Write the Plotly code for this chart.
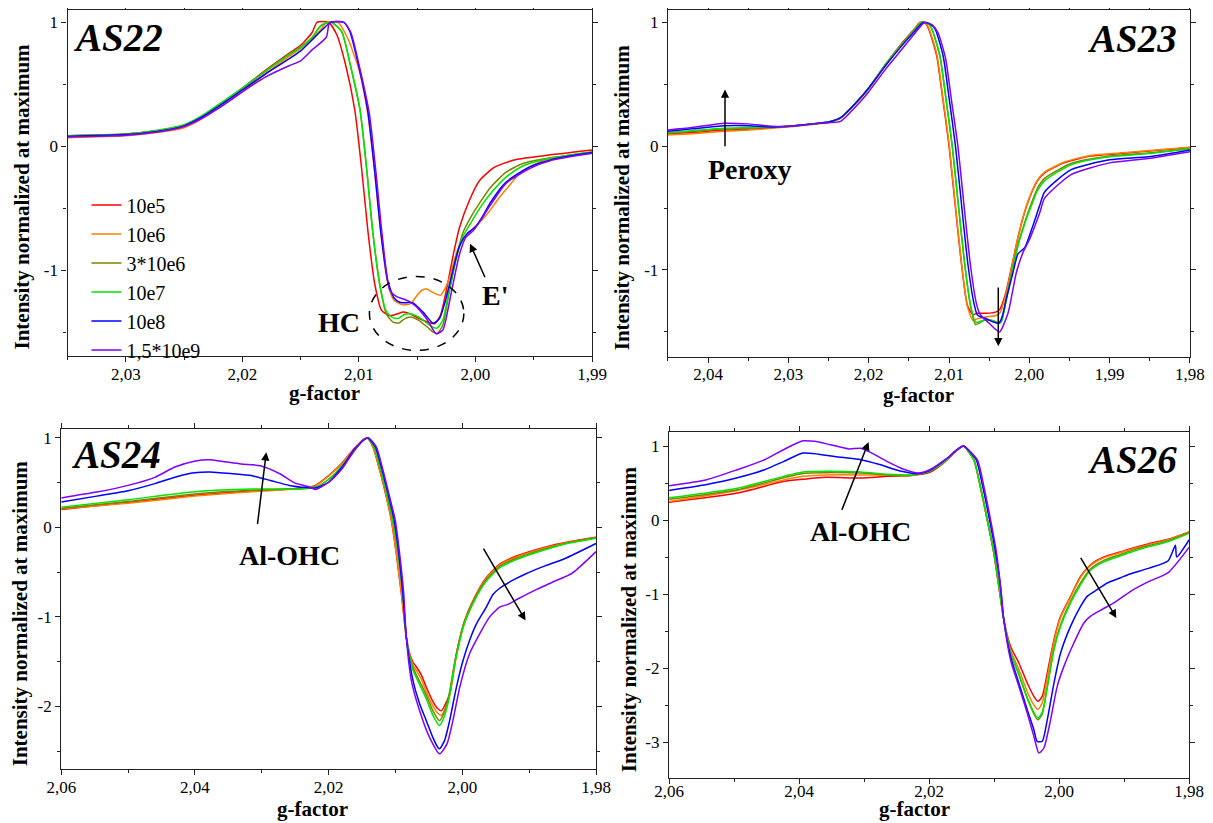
import plotly.graph_objects as go

SERIES = ["10e5", "10e6", "3*10e6", "10e7", "10e8", "1,5*10e9"]
COLORS = ["#FF0000", "#FF8000", "#808000", "#00E400", "#0000FF", "#8000FF"]

# ---------------- AS22 ----------------
AS22_g_10e5 = [2.035, 2.030, 2.027, 2.025, 2.0235, 2.022, 2.020, 2.018, 2.016, 2.015, 2.014, 2.0136, 2.0126, 2.0119, 2.0111, 2.01035, 2.00978, 2.00921, 2.00864, 2.00807, 2.00735, 2.0067, 2.0062, 2.0056, 2.0048, 2.0040, 2.0035, 2.0030, 2.0025, 2.0019, 2.00136, 2.0005, 1.99965, 1.9984, 1.9967, 1.9941, 1.990]
AS22_i_10e5 = [0.085, 0.100, 0.130, 0.170, 0.240, 0.335, 0.470, 0.615, 0.750, 0.815, 0.920, 1.000, 1.000, 0.900, 0.640, 0.290, -0.170, -0.700, -1.110, -1.320, -1.365, -1.350, -1.335, -1.350, -1.390, -1.420, -1.430, -1.360, -1.160, -0.870, -0.650, -0.430, -0.275, -0.170, -0.110, -0.075, -0.030]

AS22_g_10e6 = [2.035, 2.030, 2.027, 2.025, 2.0235, 2.022, 2.020, 2.018, 2.016, 2.015, 2.014, 2.0132, 2.0128, 2.0118, 2.0110, 2.0100, 2.00925, 2.00868, 2.0081, 2.00754, 2.0070, 2.0063, 2.0056, 2.0050, 2.0046, 2.0042, 2.0036, 2.0030, 2.0027, 2.0022, 2.0016, 2.0010, 2.0002, 1.9994, 1.9987, 1.9981, 1.9974, 1.9960, 1.9940, 1.990]
AS22_i_10e6 = [0.070, 0.085, 0.115, 0.150, 0.220, 0.310, 0.440, 0.585, 0.725, 0.790, 0.870, 0.950, 1.000, 1.000, 0.880, 0.620, 0.270, -0.180, -0.720, -1.100, -1.240, -1.275, -1.270, -1.200, -1.160, -1.150, -1.180, -1.200, -1.160, -1.050, -0.850, -0.740, -0.660, -0.590, -0.510, -0.430, -0.350, -0.200, -0.110, -0.055]

AS22_g_3x10e6 = [2.035, 2.030, 2.027, 2.025, 2.0235, 2.022, 2.020, 2.018, 2.016, 2.015, 2.014, 2.0133, 2.0124, 2.0115, 2.0107, 2.0099, 2.00935, 2.0088, 2.0082, 2.00765, 2.0071, 2.0066, 2.0061, 2.0056, 2.0049, 2.0041, 2.0036, 2.0033, 2.0028, 2.0023, 2.0017, 2.0011, 2.0004, 1.9996, 1.9987, 1.9974, 1.9960, 1.9941, 1.990]
AS22_i_3x10e6 = [0.085, 0.100, 0.130, 0.170, 0.240, 0.335, 0.465, 0.605, 0.740, 0.800, 0.880, 0.970, 1.000, 0.930, 0.640, 0.290, -0.170, -0.700, -1.120, -1.350, -1.415, -1.425, -1.390, -1.375, -1.400, -1.460, -1.500, -1.510, -1.440, -1.200, -0.920, -0.700, -0.570, -0.450, -0.330, -0.210, -0.140, -0.100, -0.045]

AS22_g_10e7 = [2.035, 2.030, 2.027, 2.025, 2.0235, 2.022, 2.020, 2.018, 2.016, 2.015, 2.014, 2.0132, 2.0124, 2.0115, 2.0107, 2.0099, 2.00935, 2.0088, 2.0082, 2.00765, 2.0071, 2.0066, 2.0061, 2.0056, 2.0049, 2.0041, 2.0036, 2.0033, 2.0028, 2.0023, 2.0017, 2.0011, 2.0003, 1.9995, 1.9987, 1.9974, 1.9960, 1.9941, 1.990]
AS22_i_10e7 = [0.085, 0.100, 0.135, 0.175, 0.245, 0.340, 0.470, 0.610, 0.740, 0.800, 0.880, 0.980, 1.000, 0.930, 0.640, 0.290, -0.170, -0.700, -1.120, -1.330, -1.380, -1.385, -1.355, -1.350, -1.375, -1.430, -1.460, -1.465, -1.400, -1.180, -0.920, -0.730, -0.600, -0.480, -0.380, -0.250, -0.160, -0.105, -0.045]

AS22_g_10e8 = [2.035, 2.030, 2.027, 2.025, 2.0235, 2.022, 2.020, 2.018, 2.016, 2.015, 2.014, 2.0124, 2.0113, 2.0108, 2.0100, 2.00925, 2.00868, 2.00811, 2.00754, 2.0070, 2.0065, 2.0059, 2.0054, 2.0045, 2.00364, 2.0031, 2.0026, 2.0022, 2.00136, 2.0007, 2.0000, 1.9993, 1.9987, 1.9974, 1.9954, 1.9934, 1.990]
AS22_i_10e8 = [0.080, 0.095, 0.125, 0.165, 0.235, 0.325, 0.455, 0.585, 0.705, 0.770, 0.860, 1.000, 1.000, 0.930, 0.640, 0.290, -0.170, -0.700, -1.080, -1.220, -1.256, -1.260, -1.260, -1.336, -1.425, -1.390, -1.250, -1.100, -0.800, -0.700, -0.650, -0.550, -0.450, -0.290, -0.167, -0.105, -0.050]

AS22_g_15x10e9 = [2.035, 2.030, 2.027, 2.025, 2.0235, 2.022, 2.020, 2.018, 2.016, 2.015, 2.014, 2.0128, 2.0125, 2.0113, 2.0107, 2.0099, 2.0091, 2.00855, 2.0080, 2.00735, 2.0068, 2.0062, 2.0057, 2.0051, 2.0042, 2.00336, 2.0028, 2.0021, 2.00136, 2.0008, 2.0002, 1.9993, 1.9987, 1.9974, 1.9954, 1.9934, 1.990]
AS22_i_15x10e9 = [0.075, 0.090, 0.120, 0.160, 0.225, 0.310, 0.440, 0.560, 0.650, 0.690, 0.780, 0.880, 1.000, 1.000, 0.920, 0.620, 0.260, -0.200, -0.720, -1.160, -1.210, -1.230, -1.250, -1.290, -1.390, -1.510, -1.480, -1.190, -0.865, -0.730, -0.680, -0.560, -0.470, -0.300, -0.180, -0.110, -0.055]

# ---------------- AS23 ----------------
AS23_g_10e5 = [2.045, 2.042, 2.038, 2.035, 2.032, 2.030, 2.027, 2.025, 2.0235, 2.0216, 2.020, 2.0178, 2.0159, 2.0144, 2.0136, 2.0129, 2.0125, 2.01154, 2.01082, 2.0100, 2.00914, 2.00842, 2.0077, 2.0070, 2.0065, 2.0055, 2.0042, 2.0037, 2.0030, 2.0022, 2.0015, 2.0008, 2.0000, 1.9990, 1.9981, 1.9957, 1.9924, 1.9876, 1.980]
AS23_i_10e5 = [0.100, 0.110, 0.130, 0.135, 0.150, 0.160, 0.180, 0.195, 0.230, 0.350, 0.470, 0.670, 0.830, 0.940, 1.000, 0.990, 0.940, 0.730, 0.400, 0.000, -0.540, -0.970, -1.290, -1.360, -1.350, -1.350, -1.340, -1.320, -1.200, -0.970, -0.760, -0.580, -0.420, -0.280, -0.215, -0.135, -0.080, -0.054, -0.010]

AS23_g_10e6 = [2.045, 2.042, 2.038, 2.035, 2.032, 2.030, 2.027, 2.025, 2.0235, 2.0216, 2.020, 2.0178, 2.0159, 2.0144, 2.0136, 2.0129, 2.0125, 2.01154, 2.01082, 2.0100, 2.00914, 2.00842, 2.0077, 2.0070, 2.0065, 2.0055, 2.0042, 2.0037, 2.0030, 2.0022, 2.0015, 2.0008, 2.0000, 1.9990, 1.9981, 1.9957, 1.9924, 1.9876, 1.980]
AS23_i_10e6 = [0.090, 0.100, 0.120, 0.130, 0.145, 0.155, 0.175, 0.190, 0.225, 0.345, 0.465, 0.665, 0.825, 0.935, 1.000, 0.995, 0.950, 0.750, 0.420, 0.020, -0.520, -0.960, -1.300, -1.410, -1.395, -1.380, -1.370, -1.350, -1.220, -0.980, -0.760, -0.575, -0.415, -0.275, -0.210, -0.130, -0.075, -0.050, -0.008]

AS23_g_3x10e6 = [2.045, 2.042, 2.038, 2.035, 2.032, 2.030, 2.027, 2.025, 2.0235, 2.0216, 2.020, 2.0178, 2.0159, 2.0144, 2.0134, 2.0125, 2.0121, 2.01114, 2.01042, 2.0096, 2.00874, 2.00802, 2.0073, 2.0067, 2.0063, 2.0055, 2.0045, 2.0039, 2.0035, 2.0029, 2.0021, 2.0014, 2.0006, 1.9998, 1.9990, 1.9981, 1.9948, 1.9900, 1.9852, 1.980]
AS23_i_3x10e6 = [0.105, 0.120, 0.140, 0.145, 0.150, 0.158, 0.178, 0.193, 0.228, 0.348, 0.468, 0.668, 0.822, 0.932, 1.000, 0.985, 0.940, 0.730, 0.400, 0.000, -0.540, -0.970, -1.300, -1.440, -1.430, -1.405, -1.410, -1.425, -1.410, -1.240, -0.990, -0.790, -0.620, -0.470, -0.340, -0.260, -0.140, -0.080, -0.055, -0.018]

AS23_g_10e7 = [2.045, 2.042, 2.038, 2.035, 2.032, 2.030, 2.027, 2.025, 2.0235, 2.0216, 2.020, 2.0178, 2.0159, 2.0144, 2.0134, 2.0125, 2.0121, 2.01114, 2.01042, 2.0096, 2.00874, 2.00802, 2.0073, 2.0067, 2.0063, 2.0055, 2.0045, 2.0039, 2.0035, 2.0029, 2.0021, 2.0014, 2.0006, 1.9998, 1.9990, 1.9981, 1.9948, 1.9900, 1.9852, 1.980]
AS23_i_10e7 = [0.110, 0.125, 0.145, 0.150, 0.155, 0.160, 0.180, 0.195, 0.230, 0.350, 0.470, 0.670, 0.820, 0.930, 1.000, 0.985, 0.940, 0.730, 0.400, 0.000, -0.540, -0.970, -1.290, -1.420, -1.420, -1.400, -1.410, -1.430, -1.420, -1.250, -1.000, -0.800, -0.630, -0.490, -0.360, -0.280, -0.150, -0.086, -0.060, -0.020]

AS23_g_10e8 = [2.045, 2.042, 2.038, 2.035, 2.032, 2.030, 2.027, 2.025, 2.0235, 2.0216, 2.020, 2.0178, 2.0159, 2.0144, 2.0132, 2.0122, 2.0117, 2.01074, 2.01002, 2.0092, 2.00834, 2.00762, 2.0069, 2.0065, 2.0062, 2.0055, 2.0045, 2.0038, 2.0034, 2.00286, 2.00204, 2.00142, 2.00058, 1.99955, 1.99872, 1.9981, 1.9948, 1.9900, 1.9852, 1.980]
AS23_i_10e8 = [0.120, 0.140, 0.165, 0.165, 0.155, 0.160, 0.180, 0.195, 0.230, 0.350, 0.470, 0.660, 0.810, 0.920, 1.000, 0.980, 0.940, 0.730, 0.400, 0.000, -0.540, -0.970, -1.270, -1.360, -1.375, -1.390, -1.420, -1.430, -1.380, -1.230, -1.020, -0.870, -0.820, -0.640, -0.480, -0.370, -0.190, -0.110, -0.086, -0.030]

AS23_g_15x10e9 = [2.045, 2.042, 2.038, 2.035, 2.032, 2.030, 2.027, 2.025, 2.0235, 2.0216, 2.020, 2.0178, 2.0159, 2.0144, 2.0130, 2.0121, 2.0114, 2.01044, 2.00972, 2.0089, 2.00804, 2.00732, 2.0066, 2.0062, 2.0057, 2.0050, 2.0042, 2.0037, 2.00266, 2.00162, 2.0008, 1.99996, 1.99872, 1.9981, 1.9948, 1.9900, 1.9852, 1.980]
AS23_i_15x10e9 = [0.130, 0.150, 0.185, 0.180, 0.160, 0.160, 0.180, 0.190, 0.200, 0.320, 0.440, 0.630, 0.780, 0.900, 1.000, 0.980, 0.920, 0.710, 0.380, 0.000, -0.540, -0.970, -1.270, -1.350, -1.390, -1.430, -1.480, -1.500, -1.350, -1.020, -0.860, -0.750, -0.540, -0.420, -0.230, -0.135, -0.100, -0.045]

# ---------------- AS24 ----------------
AS24_g_10e5 = [2.060, 2.050, 2.040, 2.0314, 2.0240, 2.0220, 2.0200, 2.0180, 2.0162, 2.0148, 2.0142, 2.01337, 2.01237, 2.01137, 2.01062, 2.00987, 2.00912, 2.00838, 2.00788, 2.00737, 2.00687, 2.00612, 2.00537, 2.00438, 2.00363, 2.00313, 2.00263, 2.00189, 2.00089, 1.99965, 1.99815, 1.9964, 1.99441, 1.99191, 1.98764, 1.9840, 1.980]
AS24_i_10e5 = [0.200, 0.280, 0.360, 0.410, 0.440, 0.470, 0.580, 0.720, 0.880, 0.985, 1.000, 0.900, 0.640, 0.340, 0.080, -0.300, -0.740, -1.230, -1.410, -1.510, -1.560, -1.650, -1.790, -1.950, -2.030, -2.050, -1.990, -1.860, -1.410, -1.040, -0.780, -0.560, -0.410, -0.320, -0.220, -0.160, -0.110]

AS24_g_10e6 = [2.060, 2.050, 2.040, 2.0314, 2.0240, 2.0220, 2.0200, 2.0180, 2.0162, 2.0148, 2.0142, 2.01337, 2.01237, 2.01137, 2.01062, 2.00987, 2.00912, 2.00838, 2.00788, 2.00737, 2.00687, 2.00612, 2.00537, 2.00438, 2.00363, 2.00313, 2.00263, 2.00189, 2.00089, 1.99965, 1.99815, 1.9964, 1.99441, 1.99191, 1.98764, 1.9840, 1.980]
AS24_i_10e6 = [0.210, 0.270, 0.350, 0.400, 0.435, 0.465, 0.575, 0.715, 0.875, 0.985, 1.000, 0.900, 0.650, 0.350, 0.090, -0.290, -0.730, -1.230, -1.420, -1.540, -1.600, -1.700, -1.840, -2.000, -2.080, -2.100, -2.040, -1.880, -1.430, -1.060, -0.790, -0.570, -0.420, -0.330, -0.230, -0.165, -0.115]

AS24_g_3x10e6 = [2.060, 2.050, 2.040, 2.0314, 2.0240, 2.0215, 2.0191, 2.0168, 2.0148, 2.0142, 2.0132, 2.0122, 2.0112, 2.0104, 2.0096, 2.0089, 2.00838, 2.0079, 2.00737, 2.00687, 2.00612, 2.00537, 2.0044, 2.0034, 2.0029, 2.0021, 2.0011, 1.9998, 1.9982, 1.9964, 1.9944, 1.99191, 1.98764, 1.9840, 1.980]
AS24_i_3x10e6 = [0.215, 0.290, 0.375, 0.415, 0.435, 0.465, 0.590, 0.790, 0.980, 1.000, 0.900, 0.640, 0.340, 0.080, -0.300, -0.740, -1.230, -1.430, -1.570, -1.650, -1.760, -1.880, -2.050, -2.160, -2.100, -1.910, -1.490, -1.080, -0.800, -0.585, -0.435, -0.345, -0.240, -0.170, -0.115]

AS24_g_10e7 = [2.060, 2.050, 2.040, 2.0314, 2.0240, 2.0215, 2.0191, 2.0168, 2.0148, 2.0142, 2.0132, 2.0122, 2.0112, 2.0104, 2.0096, 2.0089, 2.00838, 2.0079, 2.00737, 2.00687, 2.00612, 2.00537, 2.0044, 2.0034, 2.0029, 2.0021, 2.0011, 1.9998, 1.9982, 1.9964, 1.9944, 1.99191, 1.98764, 1.9840, 1.980]
AS24_i_10e7 = [0.227, 0.310, 0.400, 0.430, 0.430, 0.460, 0.600, 0.800, 0.980, 1.000, 0.900, 0.640, 0.340, 0.080, -0.300, -0.740, -1.230, -1.440, -1.600, -1.680, -1.800, -1.920, -2.100, -2.215, -2.150, -1.950, -1.520, -1.100, -0.820, -0.600, -0.450, -0.360, -0.250, -0.175, -0.120]

AS24_g_10e8 = [2.060, 2.0547, 2.050, 2.0460, 2.0430, 2.0401, 2.0378, 2.0343, 2.0316, 2.0287, 2.0259, 2.0232, 2.0220, 2.0200, 2.0180, 2.0162, 2.0145, 2.0141, 2.0130, 2.0120, 2.0110, 2.0102, 2.0095, 2.0089, 2.00838, 2.00739, 2.00639, 2.00539, 2.0044, 2.00365, 2.0034, 2.00265, 2.0019, 2.0009, 1.99991, 1.99891, 1.99791, 1.99641, 1.99542, 1.99442, 1.99243, 1.99056, 1.98764, 1.98472, 1.980]
AS24_i_10e8 = [0.285, 0.350, 0.410, 0.490, 0.560, 0.610, 0.620, 0.600, 0.580, 0.525, 0.470, 0.445, 0.440, 0.505, 0.675, 0.870, 0.990, 1.000, 0.900, 0.640, 0.340, 0.080, -0.300, -0.740, -1.230, -1.710, -1.970, -2.160, -2.350, -2.460, -2.475, -2.380, -2.160, -1.790, -1.490, -1.260, -1.080, -0.890, -0.750, -0.680, -0.590, -0.520, -0.430, -0.350, -0.180]

AS24_g_15x10e9 = [2.060, 2.0547, 2.050, 2.0460, 2.0430, 2.0401, 2.0378, 2.0360, 2.0331, 2.0302, 2.0273, 2.0250, 2.0232, 2.0220, 2.0200, 2.0180, 2.0162, 2.0148, 2.0140, 2.01287, 2.01187, 2.01087, 2.01003, 2.00937, 2.00877, 2.00838, 2.00763, 2.00639, 2.00489, 2.0034, 2.0023, 2.00141, 2.0004, 1.99891, 1.99741, 1.99591, 1.99442, 1.99318, 1.99172, 1.9888, 1.98647, 1.98356, 1.980]
AS24_i_15x10e9 = [0.330, 0.395, 0.470, 0.560, 0.675, 0.740, 0.756, 0.740, 0.710, 0.690, 0.600, 0.495, 0.460, 0.425, 0.505, 0.655, 0.860, 0.980, 1.000, 0.900, 0.640, 0.340, 0.080, -0.300, -0.740, -1.230, -1.710, -2.050, -2.350, -2.530, -2.420, -2.160, -1.790, -1.410, -1.190, -1.000, -0.890, -0.860, -0.800, -0.690, -0.610, -0.510, -0.270]

# ---------------- AS26 ----------------
AS26_g_10e5 = [2.060, 2.0495, 2.0424, 2.0394, 2.0359, 2.0305, 2.0264, 2.0228, 2.0199, 2.0175, 2.0157, 2.0147, 2.01311, 2.01212, 2.01105, 2.01003, 2.00926, 2.0085, 2.00746, 2.00618, 2.00489, 2.00387, 2.00325, 2.00258, 2.00181, 2.00078, 1.99977, 1.99823, 1.99669, 1.99515, 1.99311, 1.99054, 1.98911, 1.98615, 1.9832, 1.980]
AS26_i_10e5 = [0.240, 0.365, 0.520, 0.550, 0.577, 0.567, 0.590, 0.600, 0.644, 0.790, 0.940, 1.000, 0.815, 0.454, 0.004, -0.446, -0.897, -1.347, -1.708, -1.932, -2.203, -2.383, -2.450, -2.383, -2.068, -1.618, -1.302, -1.032, -0.762, -0.604, -0.500, -0.430, -0.390, -0.320, -0.260, -0.160]

AS26_g_10e6 = [2.060, 2.0495, 2.0424, 2.0394, 2.0359, 2.0305, 2.0264, 2.0228, 2.0199, 2.0175, 2.0157, 2.0147, 2.01311, 2.01212, 2.01105, 2.01003, 2.00926, 2.0085, 2.00746, 2.00618, 2.00489, 2.00387, 2.00325, 2.00258, 2.00181, 2.00078, 1.99977, 1.99823, 1.99669, 1.99515, 1.99311, 1.99054, 1.98911, 1.98615, 1.9832, 1.980]
AS26_i_10e6 = [0.250, 0.400, 0.540, 0.590, 0.610, 0.610, 0.605, 0.600, 0.667, 0.800, 0.945, 1.000, 0.815, 0.460, 0.010, -0.440, -0.890, -1.347, -1.760, -2.020, -2.320, -2.500, -2.560, -2.470, -2.130, -1.650, -1.320, -1.045, -0.775, -0.615, -0.510, -0.440, -0.400, -0.330, -0.265, -0.165]

AS26_g_3x10e6 = [2.060, 2.0495, 2.0424, 2.0394, 2.0359, 2.0305, 2.0264, 2.0228, 2.0199, 2.0175, 2.0157, 2.0147, 2.01311, 2.01212, 2.01105, 2.01003, 2.00926, 2.0085, 2.00746, 2.00618, 2.00489, 2.00387, 2.00325, 2.00258, 2.00181, 2.00078, 1.99977, 1.99823, 1.99669, 1.99515, 1.99311, 1.99054, 1.98911, 1.98615, 1.9832, 1.980]
AS26_i_3x10e6 = [0.280, 0.410, 0.570, 0.630, 0.640, 0.635, 0.610, 0.605, 0.662, 0.800, 0.945, 1.000, 0.815, 0.460, 0.010, -0.440, -0.890, -1.347, -1.790, -2.090, -2.410, -2.620, -2.700, -2.620, -2.260, -1.740, -1.420, -1.100, -0.850, -0.660, -0.545, -0.465, -0.420, -0.345, -0.280, -0.172]

AS26_g_10e7 = [2.060, 2.0495, 2.0424, 2.0394, 2.0359, 2.0305, 2.0264, 2.0228, 2.0199, 2.0175, 2.0157, 2.0147, 2.01311, 2.01212, 2.01105, 2.01003, 2.00926, 2.0085, 2.00746, 2.00618, 2.00489, 2.00387, 2.00325, 2.00258, 2.00181, 2.00078, 1.99977, 1.99823, 1.99669, 1.99515, 1.99311, 1.99054, 1.98911, 1.98615, 1.9832, 1.980]
AS26_i_10e7 = [0.300, 0.430, 0.590, 0.650, 0.660, 0.650, 0.620, 0.610, 0.660, 0.800, 0.945, 1.000, 0.815, 0.460, 0.010, -0.440, -0.890, -1.347, -1.790, -2.080, -2.400, -2.600, -2.680, -2.600, -2.250, -1.750, -1.440, -1.120, -0.875, -0.680, -0.565, -0.485, -0.440, -0.360, -0.290, -0.180]

AS26_g_10e8 = [2.060, 2.0542, 2.0495, 2.0453, 2.0424, 2.0394, 2.0370, 2.0335, 2.0305, 2.0276, 2.0246, 2.0217, 2.0199, 2.0175, 2.0154, 2.0147, 2.01275, 2.01175, 2.01070, 2.00975, 2.0090, 2.0085, 2.00746, 2.00618, 2.00489, 2.00387, 2.00336, 2.00258, 2.00181, 2.00078, 1.99977, 1.99823, 1.99669, 1.99567, 1.99413, 1.99259, 1.99054, 1.98911, 1.98615, 1.9832, 1.9821, 1.9819, 1.980]
AS26_i_10e8 = [0.400, 0.480, 0.570, 0.680, 0.790, 0.905, 0.890, 0.847, 0.815, 0.750, 0.667, 0.626, 0.667, 0.815, 0.970, 1.000, 0.815, 0.454, 0.004, -0.446, -0.897, -1.347, -1.843, -2.203, -2.563, -2.834, -2.992, -2.990, -2.700, -2.203, -1.800, -1.438, -1.167, -1.032, -0.942, -0.851, -0.780, -0.730, -0.650, -0.550, -0.340, -0.500, -0.270]

AS26_g_15x10e9 = [2.060, 2.0542, 2.0495, 2.0453, 2.0424, 2.0394, 2.0376, 2.0353, 2.0323, 2.0305, 2.0288, 2.0264, 2.0240, 2.0217, 2.0199, 2.0175, 2.0157, 2.0147, 2.01258, 2.01157, 2.01054, 2.00962, 2.0090, 2.0085, 2.00746, 2.00618, 2.00489, 2.00387, 2.0031, 2.00233, 2.0013, 2.00028, 1.99925, 1.99772, 1.99618, 1.99515, 1.99362, 1.99156, 1.99054, 1.98911, 1.98615, 1.9832, 1.980]
AS26_i_15x10e9 = [0.464, 0.545, 0.680, 0.815, 0.950, 1.070, 1.063, 1.020, 0.960, 0.970, 0.905, 0.790, 0.690, 0.635, 0.680, 0.815, 0.950, 1.000, 0.815, 0.454, 0.004, -0.446, -0.897, -1.347, -1.888, -2.248, -2.608, -2.924, -3.149, -3.081, -2.700, -2.248, -1.978, -1.662, -1.392, -1.300, -1.220, -1.120, -1.060, -0.970, -0.830, -0.710, -0.370]

# ---------------- axes: ranges and ticks ----------------
AS22_xrange = [2.035, 1.99]
AS23_xrange = [2.045, 1.98]
AS24_xrange = [2.06, 1.98]
AS26_xrange = [2.06, 1.98]
AS22_yrange = [-1.69, 1.10]
AS23_yrange = [-1.70, 1.10]
AS24_yrange = [-2.70, 1.10]
AS26_yrange = [-3.49, 1.19]
AS22_xticks = [2.03, 2.02, 2.01, 2.00, 1.99]
AS23_xticks = [2.04, 2.03, 2.02, 2.01, 2.00, 1.99, 1.98]
AS24_xticks = [2.06, 2.04, 2.02, 2.00, 1.98]
AS26_xticks = [2.06, 2.04, 2.02, 2.00, 1.98]
AS22_yticks = [1, 0, -1]
AS23_yticks = [1, 0, -1]
AS24_yticks = [1, 0, -1, -2]
AS26_yticks = [1, 0, -1, -2, -3]

FONT = "Liberation Serif"
AXC = "#222222"
TITLE_FONT = dict(family=FONT, size=21, color="black")

# The page body adds an 8px margin; the figure is sized to fill the rest of the window.
FIG_W, FIG_H = 1205, 815

panels = [
    dict(xa="x", ya="y", dom_x=[0.0494, 0.4847], dom_y=[0.5730, 0.9976],
         xr=AS22_xrange, yr=AS22_yrange, xt=AS22_xticks, yt=AS22_yticks, xminor=0.005,
         data=[(AS22_g_10e5, AS22_i_10e5), (AS22_g_10e6, AS22_i_10e6), (AS22_g_3x10e6, AS22_i_3x10e6),
               (AS22_g_10e7, AS22_i_10e7), (AS22_g_10e8, AS22_i_10e8), (AS22_g_15x10e9, AS22_i_15x10e9)],
         xt_dx=-5, xt_dy=37, yt_dx=46, lab_sd=-3),
    dict(xa="x2", ya="y2", dom_x=[0.5477, 0.9809], dom_y=[0.5722, 0.9976],
         xr=AS23_xrange, yr=AS23_yrange, xt=AS23_xticks, yt=AS23_yticks, xminor=0.005,
         data=[(AS23_g_10e5, AS23_i_10e5), (AS23_g_10e6, AS23_i_10e6), (AS23_g_3x10e6, AS23_i_3x10e6),
               (AS23_g_10e7, AS23_i_10e7), (AS23_g_10e8, AS23_i_10e8), (AS23_g_15x10e9, AS23_i_15x10e9)],
         xt_dx=-10, xt_dy=38, yt_dx=46, lab_sd=-3),
    dict(xa="x3", ya="y3", dom_x=[0.0442, 0.4880], dom_y=[0.0663, 0.4834],
         xr=AS24_xrange, yr=AS24_yrange, xt=AS24_xticks, yt=AS24_yticks, xminor=0.01,
         data=[(AS24_g_10e5, AS24_i_10e5), (AS24_g_10e6, AS24_i_10e6), (AS24_g_3x10e6, AS24_i_3x10e6),
               (AS24_g_10e7, AS24_i_10e7), (AS24_g_10e8, AS24_i_10e8), (AS24_g_15x10e9, AS24_i_15x10e9)],
         xt_dx=-16, xt_dy=40, yt_dx=41, lab_sd=-3),
    dict(xa="x4", ya="y4", dom_x=[0.5486, 0.9801], dom_y=[0.0549, 0.4798],
         xr=AS26_xrange, yr=AS26_yrange, xt=AS26_xticks, yt=AS26_yticks, xminor=0.01,
         data=[(AS26_g_10e5, AS26_i_10e5), (AS26_g_10e6, AS26_i_10e6), (AS26_g_3x10e6, AS26_i_3x10e6),
               (AS26_g_10e7, AS26_i_10e7), (AS26_g_10e8, AS26_i_10e8), (AS26_g_15x10e9, AS26_i_15x10e9)],
         xt_dx=-15, xt_dy=31, yt_dx=40, lab_sd=-8),
]

fig = go.Figure()
layout = dict(
    width=FIG_W, height=FIG_H,
    margin=dict(l=0, r=0, t=0, b=0),
    paper_bgcolor="white", plot_bgcolor="white",
    font=dict(family=FONT, color="black", size=17),
    showlegend=True,
    legend=dict(x=0.0651, y=0.7821, xanchor="left", yanchor="top",
                bgcolor="rgba(0,0,0,0)", font=dict(family=FONT, size=20),
                tracegroupgap=0, itemwidth=30),
)

ann = []
for p_i, p in enumerate(panels):
    for s_i, (g, v) in enumerate(p["data"]):
        fig.add_trace(go.Scatter(
            x=g, y=v, mode="lines", name=SERIES[s_i],
            line=dict(color=COLORS[s_i], width=1.5, shape="spline", smoothing=0.6),
            xaxis=p["xa"], yaxis=p["ya"], showlegend=(p_i == 0),
        ))
    xkey = "xaxis" if p["xa"] == "x" else "xaxis" + p["xa"][1:]
    ykey = "yaxis" if p["ya"] == "y" else "yaxis" + p["ya"][1:]
    layout[xkey] = dict(
        domain=p["dom_x"], range=p["xr"], anchor=p["ya"],
        tickmode="array", tickvals=p["xt"],
        ticktext=[f"{t:.2f}".replace(".", ",") for t in p["xt"]],
        ticks="outside", ticklen=5, tickwidth=1.3, tickcolor=AXC, ticklabelstandoff=p["lab_sd"],
        minor=dict(tickmode="linear", tick0=2.0, dtick=p["xminor"], ticks="outside",
                   ticklen=3, tickwidth=1.2, tickcolor=AXC, showgrid=False),
        showline=True, linecolor=AXC, linewidth=1.4, mirror="ticks",
        showgrid=False, zeroline=False, automargin=False,
        tickfont=dict(family=FONT, size=17, color="black"),
    )
    layout[ykey] = dict(
        domain=p["dom_y"], range=p["yr"], anchor=p["xa"],
        tickmode="array", tickvals=p["yt"], ticktext=[str(t) for t in p["yt"]],
        ticks="outside", ticklen=5, tickwidth=1.3, tickcolor=AXC,
        minor=dict(tickmode="linear", tick0=0, dtick=0.5, ticks="outside",
                   ticklen=3, tickwidth=1.2, tickcolor=AXC, showgrid=False),
        showline=True, linecolor=AXC, linewidth=1.4, mirror="ticks",
        showgrid=False, zeroline=False, automargin=False,
        tickfont=dict(family=FONT, size=17, color="black"),
    )
    # axis titles
    ann.append(dict(xref=p["xa"] + " domain", yref=p["ya"] + " domain", x=0.5, y=0,
                    xshift=p["xt_dx"], yshift=-p["xt_dy"], xanchor="center", yanchor="middle",
                    text="<b>g-factor</b>", showarrow=False, font=TITLE_FONT))
    ann.append(dict(xref=p["xa"] + " domain", yref=p["ya"] + " domain", x=0, y=0.5,
                    xshift=-p["yt_dx"], yshift=-14, xanchor="center", yanchor="middle",
                    textangle=-90, text="<b>Intensity normalized at maximum</b>",
                    showarrow=False, font=TITLE_FONT))

fig.update_layout(**layout)

name_font = dict(family=FONT, size=39, color="black")
label_font = dict(family=FONT, size=28, color="black")
ann += [
    dict(xref="x", yref="y", x=2.0347, y=0.88, text="<b><i>AS22</i></b>", xanchor="left", yanchor="middle", showarrow=False, font=name_font),
    dict(xref="x2", yref="y2", x=1.9814, y=0.87, text="<b><i>AS23</i></b>", xanchor="right", yanchor="middle", showarrow=False, font=name_font),
    dict(xref="x3", yref="y3", x=2.0588, y=0.82, text="<b><i>AS24</i></b>", xanchor="left", yanchor="middle", showarrow=False, font=name_font),
    dict(xref="x4", yref="y4", x=1.9815, y=0.82, text="<b><i>AS26</i></b>", xanchor="right", yanchor="middle", showarrow=False, font=name_font),
    dict(xref="x", yref="y", x=2.0117, y=-1.42, text="<b>HC</b>", showarrow=False, font=label_font),
    dict(xref="x", yref="y", x=1.9983, y=-1.20, text="<b>E'</b>", showarrow=False, font=label_font),
    dict(xref="x2", yref="y2", x=2.0348, y=-0.19, text="<b>Peroxy</b>", showarrow=False, font=label_font),
    dict(xref="x3", yref="y3", x=2.0258, y=-0.31, text="<b>Al-OHC</b>", showarrow=False, font=label_font),
    dict(xref="x4", yref="y4", x=2.0305, y=-0.15, text="<b>Al-OHC</b>", showarrow=False, font=label_font),
]
arrows = [
    ("x", "y", 1.99913, -1.067, 2.00047, -0.785),
    ("x2", "y2", 2.0379, -0.013, 2.0379, 0.458),
    ("x2", "y2", 2.00387, -1.13, 2.00387, -1.615),
    ("x3", "y3", 2.03067, 0.022, 2.02933, 0.84),
    ("x3", "y3", 1.99697, -0.22, 1.99055, -1.04),
    ("x4", "y4", 2.0335, 0.117, 2.0293, 1.054),
    ("x4", "y4", 1.9968, -0.49, 1.99118, -1.324),
]
for xa, ya, x0, y0, x1, y1 in arrows:
    ann.append(dict(xref=xa, yref=ya, axref=xa, ayref=ya, x=x1, y=y1, ax=x0, ay=y0,
                    text="", showarrow=True, arrowhead=2, arrowsize=1.1, arrowwidth=1.5,
                    arrowcolor="black"))
fig.update_layout(annotations=ann)

# HC dashed ellipse
fig.add_shape(type="circle", xref="x", yref="y", x0=2.0091, x1=2.0010, y0=-1.645, y1=-1.048,
              line=dict(color="black", width=1.5, dash="dash"))

fig.write_html("out.html")
